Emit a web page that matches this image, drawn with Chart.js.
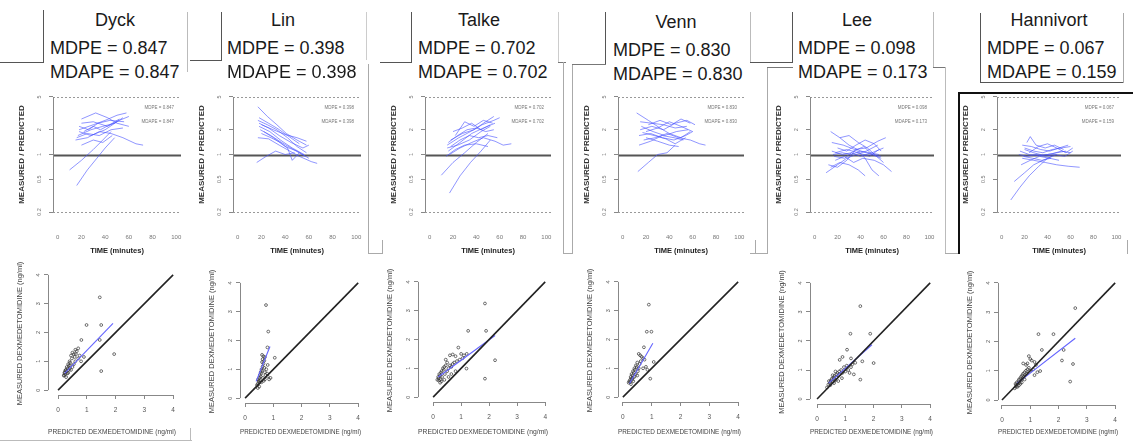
<!DOCTYPE html>
<html>
<head>
<meta charset="utf-8">
<script src="https://cdn.jsdelivr.net/npm/chart.js@4.4.1/dist/chart.umd.min.js"></script>
<style>
html, body { margin: 0; padding: 0; background: #fff; }
body { width: 1133px; height: 442px; position: relative; overflow: hidden; font-family: "Liberation Sans", Arial, sans-serif; }
.t { position: absolute; font-size: 18px; line-height: 24px; color: #1a1a1a; white-space: nowrap; }
.seg { position: absolute; }
canvas { position: absolute; }
</style>
</head>
<body>
<script>
// ---- data ----
const studies = ['Dyck', 'Lin', 'Talke', 'Venn', 'Lee', 'Hannivort'];
const mdpe = ['0.847', '0.398', '0.702', '0.830', '0.098', '0.067'];
const mdape = ['0.847', '0.398', '0.702', '0.830', '0.173', '0.159'];

const timeTicks = [0, 20, 40, 60, 80, 100];
const ratioTicks = [0.2, 0.5, 1, 2, 5];
const concTicks = [0, 1, 2, 3, 4];
const refLevels = [5, 1, 0.2];

// measured/predicted ratio per patient: [time (min), ratio]
const dyckCurves = [
    [[18, 2.0], [30, 2.3], [40, 2.6], [50, 3.0], [58, 3.2]],
    [[17, 1.7], [28, 2.0], [38, 2.2], [48, 2.4], [55, 2.8]],
    [[20, 2.4], [30, 2.5], [42, 2.2], [52, 2.6], [60, 2.9]],
    [[16, 1.6], [25, 1.8], [35, 1.7], [45, 2.0], [55, 2.1]],
    [[18, 1.9], [28, 1.7], [40, 2.0], [50, 2.5]],
    [[20, 2.7], [32, 3.2], [42, 2.8], [50, 2.4], [60, 2.2]],
    [[15, 1.5], [25, 1.6], [35, 1.9], [45, 1.8], [55, 1.6], [66, 1.35], [72, 1.3]],
    [[10, 0.65], [20, 0.85], [30, 1.15], [38, 1.5], [45, 1.9]],
    [[16, 0.42], [25, 0.65], [33, 0.9], [40, 1.2], [48, 1.6]],
    [[22, 1.9], [30, 2.2], [36, 2.0], [44, 2.3], [52, 2.7]],
    [[18, 2.2], [26, 2.0], [34, 2.4], [44, 2.6], [56, 2.5]],
    [[20, 1.3], [30, 1.5], [38, 1.4], [46, 1.7]],
];
const linCurves = [
    [[17, 3.8], [25, 2.9], [33, 2.3], [41, 1.8], [50, 1.5], [58, 1.3]],
    [[17, 2.6], [25, 2.3], [33, 2.0], [42, 1.6], [50, 1.25], [58, 1.05]],
    [[18, 2.4], [26, 2.1], [35, 1.7], [45, 1.4], [55, 1.2], [60, 1.3]],
    [[18, 2.2], [27, 1.9], [36, 1.5], [46, 1.2], [56, 1.0]],
    [[19, 2.0], [28, 1.7], [37, 1.4], [47, 1.15], [57, 0.95]],
    [[17, 1.6], [26, 1.55], [35, 1.3], [44, 1.1], [52, 0.95], [62, 0.82], [67, 0.78]],
    [[20, 2.3], [30, 2.0], [40, 1.75], [50, 1.6], [58, 1.45]],
    [[16, 0.8], [24, 0.95], [32, 1.1], [40, 1.0], [48, 1.05]],
    [[20, 1.8], [28, 1.6], [36, 1.4], [42, 1.2], [46, 0.85], [52, 1.05]],
    [[18, 2.8], [26, 2.4], [34, 2.05], [42, 1.7], [52, 1.35]],
    [[22, 1.9], [30, 1.6], [40, 1.25], [50, 1.1], [60, 0.9]],
];
const talkeCurves = [
    [[15, 1.3], [25, 1.6], [35, 1.9], [45, 2.3], [55, 2.6], [60, 2.8]],
    [[16, 1.1], [26, 1.4], [36, 1.8], [46, 2.1], [56, 2.4]],
    [[18, 1.5], [28, 1.8], [38, 2.0], [48, 2.5], [55, 2.9]],
    [[15, 1.2], [24, 1.3], [34, 1.5], [44, 1.9], [52, 2.2]],
    [[17, 1.0], [26, 1.2], [36, 1.4], [46, 1.6], [56, 1.45], [63, 1.3], [70, 1.35]],
    [[10, 0.56], [20, 0.8], [30, 1.05], [40, 1.4], [50, 1.8]],
    [[17, 0.34], [26, 0.55], [35, 0.8], [44, 1.1], [52, 1.5]],
    [[20, 1.9], [28, 2.1], [36, 2.4], [44, 2.0], [52, 2.3]],
    [[16, 1.4], [24, 1.7], [32, 2.0], [40, 2.1], [48, 1.9], [55, 2.0]],
    [[14, 0.95], [22, 1.15], [30, 1.3], [40, 1.35], [50, 1.25]],
    [[22, 1.7], [30, 2.5], [38, 2.2], [46, 2.6], [54, 2.4]],
    [[18, 1.25], [26, 1.5], [34, 1.7], [42, 1.6], [50, 1.7], [58, 1.6]],
];
const vennCurves = [
    [[12, 3.2], [22, 2.6], [32, 2.1], [40, 1.8], [50, 1.6], [58, 1.9]],
    [[15, 2.0], [25, 2.2], [35, 2.0], [45, 2.4], [55, 2.6], [62, 2.3]],
    [[14, 1.7], [24, 1.8], [34, 1.6], [44, 1.5], [54, 1.7], [60, 1.9]],
    [[16, 2.2], [26, 1.9], [36, 1.7], [46, 1.9], [56, 2.0]],
    [[13, 0.62], [22, 0.8], [30, 1.0], [38, 1.05], [45, 1.3]],
    [[18, 1.5], [28, 1.6], [38, 1.8], [48, 1.6], [58, 1.5], [66, 1.35], [71, 1.3]],
    [[15, 2.5], [25, 2.4], [35, 2.3], [45, 2.1], [55, 2.2]],
    [[20, 1.9], [30, 2.1], [40, 2.5], [50, 2.2], [60, 1.9]],
    [[14, 1.3], [24, 1.45], [34, 1.7], [44, 1.6], [52, 1.5]],
    [[17, 1.85], [27, 1.7], [37, 1.55], [45, 1.35], [54, 1.6]],
    [[22, 2.3], [32, 2.6], [42, 2.3], [50, 2.7], [58, 2.4]],
    [[20, 1.6], [30, 1.45], [40, 1.3], [48, 1.25]],
];
const leeCurves = [
    [[14, 1.9], [22, 1.6], [30, 1.3], [40, 1.1], [50, 1.0], [58, 0.9]],
    [[16, 1.0], [24, 1.05], [32, 1.0], [40, 1.1], [48, 1.05], [56, 1.0]],
    [[10, 0.6], [20, 0.75], [28, 0.9], [36, 1.0], [45, 1.1], [55, 1.3]],
    [[15, 1.4], [25, 1.3], [35, 1.15], [45, 1.2], [55, 1.45], [62, 1.6]],
    [[18, 0.85], [26, 0.95], [34, 0.8], [42, 0.9], [52, 0.85], [60, 0.75], [67, 0.62]],
    [[14, 0.7], [22, 0.8], [30, 0.75], [38, 0.65], [44, 0.55]],
    [[20, 1.2], [28, 1.1], [36, 1.3], [44, 1.5], [52, 1.35], [58, 1.1]],
    [[15, 1.1], [24, 1.0], [32, 1.05], [40, 0.95], [50, 1.05], [60, 1.2]],
    [[22, 1.6], [30, 1.7], [38, 1.4], [46, 1.2], [54, 0.95], [60, 0.8]],
    [[17, 0.95], [26, 0.9], [34, 1.1], [43, 1.25], [50, 1.0], [58, 0.95]],
    [[12, 0.75], [20, 0.7], [28, 0.85], [36, 1.15], [44, 0.9], [50, 0.65], [56, 0.55]],
    [[18, 1.05], [28, 1.15], [38, 1.05], [48, 0.95], [56, 1.15]],
];
const hannivortCurves = [
    [[18, 1.3], [26, 1.25], [34, 1.15], [42, 1.1], [50, 1.2], [58, 1.3]],
    [[16, 1.1], [24, 1.0], [32, 0.97], [40, 1.0], [48, 1.05], [56, 1.1]],
    [[20, 1.2], [28, 1.1], [36, 1.05], [44, 1.15], [52, 1.2], [60, 1.25]],
    [[8, 0.28], [16, 0.4], [24, 0.55], [32, 0.71], [40, 0.9], [48, 1.0]],
    [[11, 0.47], [20, 0.6], [28, 0.75], [36, 0.85], [44, 0.95]],
    [[18, 0.9], [28, 0.85], [38, 0.8], [48, 0.75], [58, 0.72], [68, 0.7]],
    [[22, 1.4], [25, 1.65], [30, 1.3], [38, 1.2], [46, 1.3], [54, 1.15]],
    [[15, 1.0], [22, 0.95], [30, 1.0], [38, 0.95], [46, 1.0], [55, 0.95], [62, 1.1]],
    [[20, 1.15], [28, 1.05], [36, 0.98], [44, 1.02], [52, 1.1], [60, 1.05]],
    [[17, 0.75], [25, 0.85], [33, 0.95], [42, 0.9], [50, 0.85]],
    [[24, 1.05], [32, 1.25], [40, 1.35], [48, 1.2], [56, 1.05], [62, 1.2]],
    [[19, 0.95], [27, 0.9], [35, 0.85], [43, 0.9]],
];

// measured vs predicted concentration (ng/ml): [predicted, measured]
const dyckPoints = [
    [1.45, 3.22], [0.99, 2.26], [1.5, 2.26], [1.95, 1.25], [1.5, 0.66], [0.81, 1.74], [1.45, 1.74],
    [0.2, 0.5], [0.22, 0.6], [0.25, 0.55], [0.27, 0.7], [0.3, 0.65], [0.3, 0.8], [0.33, 0.75],
    [0.35, 0.9], [0.38, 0.85], [0.4, 1.0], [0.42, 0.95], [0.45, 1.2], [0.48, 1.1], [0.5, 1.3],
    [0.55, 1.25], [0.6, 1.4], [0.65, 1.35], [0.7, 1.45], [0.55, 0.9], [0.6, 1.0], [0.45, 0.7],
    [0.35, 0.6], [0.28, 0.45], [0.7, 1.1], [0.75, 1.2], [0.5, 0.8], [0.4, 0.75], [0.25, 0.68],
    [0.32, 0.58], [0.58, 1.15], [0.62, 1.25], [0.8, 1.0], [0.9, 1.15], [0.21, 0.52], [0.24, 0.62],
    [0.37, 0.7], [0.43, 0.85],
];
const linPoints = [
    [0.74, 3.23], [0.82, 2.31], [0.79, 1.76], [0.6, 1.5], [0.65, 1.45], [0.7, 1.42], [0.62, 1.35],
    [0.68, 1.3], [1.05, 1.4], [0.45, 0.5], [0.48, 0.6], [0.5, 0.55], [0.5, 0.7], [0.52, 0.8],
    [0.55, 0.75], [0.55, 0.9], [0.58, 1.0], [0.6, 0.95], [0.62, 1.1], [0.65, 1.2], [0.68, 1.05],
    [0.7, 0.9], [0.72, 0.8], [0.75, 1.0], [0.78, 0.85], [0.8, 0.75], [0.85, 0.65], [0.9, 0.7],
    [0.42, 0.45], [0.46, 0.65], [0.53, 0.62], [0.57, 0.85], [0.63, 0.7], [0.66, 0.6], [0.7, 0.65],
    [0.5, 0.4], [0.45, 0.35], [0.58, 0.55], [0.8, 1.15], [0.6, 1.25],
];
const talkePoints = [
    [1.85, 3.25], [1.25, 2.3], [1.89, 2.3], [0.9, 1.72], [1.2, 1.5], [2.21, 1.28], [1.85, 0.64],
    [1.19, 0.99], [1.0, 1.5], [0.6, 1.45], [0.7, 1.48], [0.8, 1.42], [1.1, 1.45], [0.45, 1.3],
    [0.5, 1.2], [0.15, 0.6], [0.18, 0.7], [0.2, 0.65], [0.22, 0.8], [0.25, 0.75], [0.28, 0.85],
    [0.3, 0.9], [0.32, 0.7], [0.35, 1.0], [0.38, 0.95], [0.4, 1.05], [0.42, 0.8], [0.45, 1.1],
    [0.5, 0.9], [0.55, 1.0], [0.6, 1.1], [0.65, 1.05], [0.7, 1.15], [0.75, 1.2], [0.85, 1.25],
    [0.95, 1.3], [1.05, 1.35], [0.3, 0.55], [0.25, 0.5], [0.4, 0.6], [0.55, 0.7], [0.65, 0.8],
    [0.8, 0.9], [0.2, 0.58], [0.27, 0.62],
];
const vennPoints = [
    [0.9, 3.21], [0.83, 2.27], [0.99, 2.27], [0.73, 1.73], [0.95, 0.64], [1.07, 1.22], [0.6, 1.45],
    [0.55, 1.5], [0.65, 1.4], [0.7, 1.35], [0.75, 1.3], [0.2, 0.5], [0.22, 0.55], [0.25, 0.6],
    [0.27, 0.7], [0.3, 0.65], [0.3, 0.8], [0.33, 0.75], [0.35, 0.9], [0.38, 0.85], [0.4, 1.0],
    [0.42, 0.95], [0.45, 1.1], [0.48, 1.05], [0.5, 1.2], [0.52, 0.9], [0.55, 1.0], [0.58, 1.15],
    [0.62, 1.25], [0.8, 1.05], [0.85, 0.95], [0.7, 1.0], [0.28, 0.45], [0.32, 0.6], [0.36, 0.55],
    [0.4, 0.7], [0.45, 0.8], [0.25, 0.52], [0.35, 0.68], [0.5, 0.75],
];
const leePoints = [
    [1.53, 3.2], [1.18, 2.25], [1.88, 2.25], [1.06, 1.7], [2.0, 1.24], [1.53, 0.67], [1.35, 1.25],
    [1.6, 1.3], [1.2, 1.4], [0.8, 1.35], [0.9, 1.45], [0.35, 0.4], [0.4, 0.5], [0.45, 0.55],
    [0.48, 0.6], [0.5, 0.65], [0.52, 0.7], [0.55, 0.6], [0.58, 0.75], [0.6, 0.7], [0.62, 0.8],
    [0.65, 0.65], [0.68, 0.85], [0.7, 0.75], [0.72, 0.9], [0.75, 0.8], [0.78, 0.95], [0.8, 0.85],
    [0.85, 1.0], [0.9, 0.9], [0.95, 1.1], [1.0, 0.95], [1.05, 1.15], [1.1, 1.0], [1.15, 0.9],
    [1.2, 1.1], [1.25, 1.2], [0.42, 0.62], [0.47, 0.48], [0.55, 0.82], [0.65, 0.95], [0.75, 0.62],
    [0.88, 0.72], [1.3, 0.85], [0.6, 0.55],
];
const hannivortPoints = [
    [2.59, 3.14], [1.29, 2.25], [1.82, 2.25], [1.41, 1.71], [2.18, 1.71], [2.12, 1.35], [2.51, 1.23],
    [2.41, 0.63], [1.35, 0.99], [1.0, 1.4], [0.95, 1.5], [1.05, 1.35], [1.15, 1.3], [1.2, 1.2],
    [0.75, 1.25], [0.45, 0.4], [0.5, 0.5], [0.52, 0.6], [0.55, 0.55], [0.58, 0.65], [0.6, 0.7],
    [0.62, 0.6], [0.65, 0.75], [0.68, 0.8], [0.7, 0.7], [0.72, 0.85], [0.75, 0.9], [0.78, 0.8],
    [0.8, 0.95], [0.85, 1.0], [0.88, 0.9], [0.9, 1.05], [0.95, 1.1], [1.0, 1.0], [1.1, 1.05],
    [1.15, 0.85], [1.25, 0.95], [0.5, 0.45], [0.55, 0.45], [0.6, 0.5], [0.65, 0.55], [0.7, 0.6],
    [0.8, 0.7], [0.85, 1.2], [0.9, 1.25], [0.48, 0.55],
];

// regression lines (ends) and line of identity
const dyckFit = [[0.23, 0.58], [1.91, 2.32]];
const linFit = [[0.39, 0.58], [0.88, 1.79]];
const talkeFit = [[0.18, 0.7], [2.21, 2.14]];
const vennFit = [[0.23, 0.47], [1.04, 1.87]];
const leeFit = [[0.41, 0.55], [1.94, 1.87]];
const hannivortFit = [[0.53, 0.57], [2.59, 2.11]];
const identity = [[0, 0], [4, 4]];

const curveSets = [dyckCurves, linCurves, talkeCurves, vennCurves, leeCurves, hannivortCurves];
const pointSets = [dyckPoints, linPoints, talkePoints, vennPoints, leePoints, hannivortPoints];
const fitSets = [dyckFit, linFit, talkeFit, vennFit, leeFit, hannivortFit];

// ---- layout (pixels on the page) ----
const topArea = { top: 92, h: 125 };
const panels = [
    { nameX: 115, statX: 50, dy: 0, top: { left: 53, w: 128 }, sc: { left: 48, top: 272, w: 128, h: 123, xMin: -0.35, yMin: -0.17 } },
    { nameX: 283, statX: 227, dy: 0, top: { left: 233, w: 128 }, sc: { left: 240, top: 280, w: 121, h: 123, xMin: -0.18, yMin: -0.17 } },
    { nameX: 479, statX: 418, dy: 0, top: { left: 425, w: 126 }, sc: { left: 418, top: 279, w: 130, h: 123, xMin: -0.54, yMin: -0.17 } },
    { nameX: 676, statX: 613, dy: 2, top: { left: 618, w: 126 }, sc: { left: 618, top: 279, w: 123, h: 123, xMin: -0.17, yMin: -0.17 } },
    { nameX: 857, statX: 798, dy: 0, top: { left: 810, w: 124 }, sc: { left: 810, top: 280, w: 123, h: 124, xMin: -0.25, yMin: -0.17 } },
    { nameX: 1049, statX: 987, dy: 0, top: { left: 997, w: 124 }, sc: { left: 998, top: 280, w: 120, h: 125, xMin: -0.14, yMin: -0.17 } },
];

// leftover panel borders of the pasted figure: [x, y, w, h, colour]
const frames = [
    [43, 10, 1, 53, '#555'], [0, 62, 44, 1, '#555'], [187, 12, 1, 60, '#bbb'],
    [221, 12, 1, 49, '#555'], [190, 60, 32, 1, '#555'], [366, 12, 1, 48, '#ccc'],
    [368, 64, 1, 190, '#aaa'], [368, 253, 14, 1, '#aaa'],
    [411, 12, 1, 51, '#555'], [380, 62, 32, 1, '#555'], [382, 240, 1, 14, '#aaa'], [370, 253, 13, 1, '#aaa'],
    [558, 12, 1, 50, '#ccc'], [558, 62, 8, 1, '#777'], [563, 62, 1, 192, '#aaa'], [563, 253, 10, 1, '#aaa'],
    [572, 64, 1, 190, '#aaa'], [572, 64, 34, 1, '#777'], [605, 12, 1, 52, '#555'],
    [750, 12, 1, 50, '#bbb'], [750, 62, 43, 1, '#555'], [755, 240, 1, 14, '#aaa'], [750, 253, 17, 1, '#aaa'],
    [792, 12, 1, 50, '#555'], [767, 67, 1, 187, '#aaa'], [767, 67, 26, 1, '#777'],
    [933, 12, 1, 55, '#bbb'], [933, 67, 12, 1, '#777'], [945, 67, 1, 187, '#bbb'], [945, 253, 13, 1, '#aaa'],
    [980, 13, 1, 70, '#555'], [980, 82, 144, 1, '#555'], [1123, 13, 1, 70, '#aaa'],
    [958, 92, 175, 2, '#111'], [958, 92, 2, 162, '#111'], [1127, 240, 1, 14, '#aaa'],
    [0, 440, 192, 1, '#bbb'], [190, 428, 1, 12, '#bbb'],
];

Chart.defaults.font.family = '"Liberation Sans", Arial, sans-serif';
Chart.defaults.color = '#666';

// R-like extras: axis line only between end ticks, reference lines, text notes
const panelDecor = {
    id: 'panelDecor',
    beforeDatasetsDraw(chart, args, opts) {
        const { ctx, chartArea: a, scales } = chart;
        (opts.hLines || []).forEach((h) => {
            const py = Math.round(scales.y.getPixelForValue(h.value)) + 0.5;
            ctx.save();
            ctx.strokeStyle = h.color;
            ctx.lineWidth = h.width;
            ctx.setLineDash(h.dash || []);
            ctx.beginPath();
            ctx.moveTo(a.left, py);
            ctx.lineTo(a.right, py);
            ctx.stroke();
            ctx.restore();
        });
    },
    afterDraw(chart, args, opts) {
        const { ctx, chartArea: a, scales } = chart;
        ctx.save();
        ctx.strokeStyle = '#888';
        ctx.lineWidth = 1;
        (opts.axes || []).forEach((id) => {
            const s = scales[id];
            const first = s.getPixelForValue(s.ticks[0].value);
            const last = s.getPixelForValue(s.ticks[s.ticks.length - 1].value);
            ctx.beginPath();
            if (id === 'y') {
                ctx.moveTo(a.left + 0.5, first);
                ctx.lineTo(a.left + 0.5, last);
            } else {
                ctx.moveTo(first, a.bottom + 0.5);
                ctx.lineTo(last, a.bottom + 0.5);
            }
            ctx.stroke();
        });
        ctx.fillStyle = '#777';
        ctx.font = '4.5px "Liberation Sans", Arial, sans-serif';
        ctx.textAlign = 'right';
        ctx.textBaseline = 'middle';
        (opts.notes || []).forEach((n) => {
            ctx.fillText(n.text, scales.x.getPixelForValue(n.x), scales.y.getPixelForValue(n.y));
        });
        ctx.restore();
    },
};

function makeCanvas(left, top, w, h) {
    const c = document.createElement('canvas');
    c.width = w;
    c.height = h;
    c.style.left = left + 'px';
    c.style.top = top + 'px';
    c.style.width = w + 'px';
    c.style.height = h + 'px';
    document.body.appendChild(c);
    return c;
}

function addText(text, x, y, centred) {
    const d = document.createElement('div');
    d.className = 't';
    d.textContent = text;
    d.style.left = x + 'px';
    d.style.top = y + 'px';
    if (centred) d.style.transform = 'translateX(-50%)';
    document.body.appendChild(d);
}

function drawFrames() {
    frames.forEach(([x, y, w, h, color]) => {
        const d = document.createElement('div');
        d.className = 'seg';
        d.style.cssText = `left:${x}px;top:${y}px;width:${w}px;height:${h}px;background:${color}`;
        document.body.appendChild(d);
    });
}

function drawTimeChart(i) {
    const p = panels[i];
    const padL = 44, padT = 14, padR = 10;
    const left = p.top.left - padL;
    const top = topArea.top - padT;
    const w = padL + p.top.w + padR;
    const h = 257 - top;
    const padB = h - padT - topArea.h;
    const canvas = makeCanvas(left, top, w, h);

    new Chart(canvas, {
        type: 'line',
        data: {
            datasets: curveSets[i].map((curve) => ({
                data: curve.map(([t, r]) => ({ x: t, y: r })),
                borderColor: 'rgba(70, 80, 255, 0.6)',
                borderWidth: 1,
                pointRadius: 0,
                fill: false,
                tension: 0,
            })),
        },
        options: {
            responsive: false,
            animation: false,
            devicePixelRatio: 1,
            layout: { padding: { left: 0, top: padT, right: padR, bottom: 0 } },
            plugins: {
                legend: { display: false },
                tooltip: { enabled: false },
                panelDecor: {
                    axes: ['y'],
                    hLines: [
                        { value: refLevels[0], color: '#999', width: 1, dash: [2, 2] },
                        { value: refLevels[1], color: '#555', width: 2 },
                        { value: refLevels[2], color: '#999', width: 1, dash: [2, 2] },
                    ],
                    notes: [
                        { x: 98, y: 3.7, text: 'MDPE = ' + mdpe[i] },
                        { x: 98, y: 2.5, text: 'MDAPE = ' + mdape[i] },
                    ],
                },
            },
            scales: {
                x: {
                    type: 'linear',
                    min: -4,
                    max: 104,
                    afterBuildTicks: (axis) => { axis.ticks = timeTicks.map((v) => ({ value: v })); },
                    afterFit: (scale) => { scale.height = padB; },
                    grid: { display: false },
                    border: { display: false },
                    ticks: { font: { size: 6 }, padding: 9, color: '#777', maxRotation: 0 },
                    title: { display: true, text: 'TIME (minutes)', font: { size: 7.5, weight: 'bold' }, color: '#222', padding: { top: 0, bottom: 2 } },
                },
                y: {
                    type: 'logarithmic',
                    min: 0.174,
                    max: 5.75,
                    afterBuildTicks: (axis) => { axis.ticks = ratioTicks.map((v) => ({ value: v })); },
                    afterFit: (scale) => { scale.width = padL; },
                    grid: { display: true, drawOnChartArea: false, tickLength: 4, color: '#888' },
                    border: { display: false },
                    ticks: { font: { size: 5.5 }, padding: 6, color: '#777', minRotation: 90, maxRotation: 90, crossAlign: 'center', callback: (v) => String(v) },
                    title: { display: true, text: 'MEASURED / PREDICTED', font: { size: 8, weight: 'bold' }, color: '#333', padding: { top: 8, bottom: 0 } },
                },
            },
        },
        plugins: [panelDecor],
    });
}

function drawConcChart(i) {
    const p = panels[i];
    const s = p.sc;
    const padL = 40, padT = 10, padR = 12;
    const left = s.left - padL;
    const top = s.top - padT;
    const w = padL + s.w + padR;
    const h = 441 - top;
    const padB = h - padT - s.h;
    const canvas = makeCanvas(left, top, w, h);
    const toXY = ([x, y]) => ({ x, y });

    new Chart(canvas, {
        type: 'scatter',
        data: {
            datasets: [
                { data: identity.map(toXY), showLine: true, borderColor: '#222', borderWidth: 1.6, pointRadius: 0 },
                { data: fitSets[i].map(toXY), showLine: true, borderColor: '#6464ff', borderWidth: 1.1, pointRadius: 0 },
                { data: pointSets[i].map(toXY), showLine: false, pointRadius: 1.4, pointBorderWidth: 0.7, borderColor: '#333', backgroundColor: 'rgba(0,0,0,0)' },
            ],
        },
        options: {
            responsive: false,
            animation: false,
            devicePixelRatio: 1,
            layout: { padding: { left: 0, top: padT, right: padR, bottom: 0 } },
            plugins: {
                legend: { display: false },
                tooltip: { enabled: false },
                panelDecor: { axes: ['x', 'y'] },
            },
            scales: {
                x: {
                    type: 'linear',
                    min: s.xMin,
                    max: 4.1,
                    afterBuildTicks: (axis) => { axis.ticks = concTicks.map((v) => ({ value: v })); },
                    afterFit: (scale) => { scale.height = padB; },
                    grid: { display: true, drawOnChartArea: false, tickLength: 4, color: '#888' },
                    border: { display: false },
                    ticks: { font: { size: 6.5 }, padding: 7, color: '#555', maxRotation: 0 },
                    title: { display: true, text: 'PREDICTED DEXMEDETOMIDINE (ng/ml)', font: { size: 7.5 }, color: '#444', padding: { top: 0, bottom: 5 } },
                },
                y: {
                    type: 'linear',
                    min: s.yMin,
                    max: 4.1,
                    afterBuildTicks: (axis) => { axis.ticks = concTicks.map((v) => ({ value: v })); },
                    afterFit: (scale) => { scale.width = padL; },
                    grid: { display: true, drawOnChartArea: false, tickLength: 4, color: '#888' },
                    border: { display: false },
                    ticks: { font: { size: 5.5 }, padding: 4, color: '#555', minRotation: 90, maxRotation: 90, crossAlign: 'center' },
                    title: { display: true, text: 'MEASURED DEXMEDETOMIDINE (ng/ml)', font: { size: 7.5 }, color: '#444', padding: { top: 7, bottom: 0 } },
                },
            },
        },
        plugins: [panelDecor],
    });
}

drawFrames();
panels.forEach((p, i) => {
    addText(studies[i], p.nameX, 8 + p.dy, true);
    addText('MDPE = ' + mdpe[i], p.statX, 36 + p.dy, false);
    addText('MDAPE = ' + mdape[i], p.statX, 60 + p.dy, false);
    drawTimeChart(i);
    drawConcChart(i);
});
</script>
</body>
</html>
